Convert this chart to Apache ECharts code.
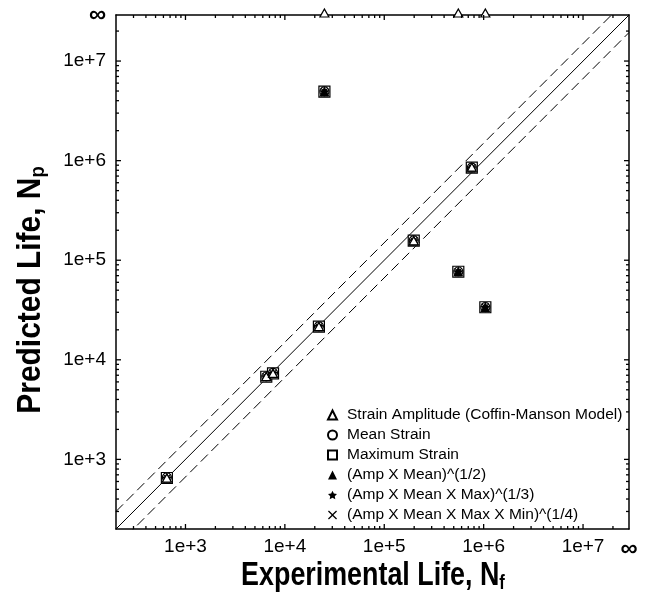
<!DOCTYPE html>
<html><head><meta charset="utf-8">
<script src="https://cdn.jsdelivr.net/npm/echarts@6/dist/echarts.min.js"></script>
<style>html,body{margin:0;padding:0;background:#fff}#c{width:652px;height:594px}</style>
</head><body><div id="c"></div>
<script>
// ---- data ----
const AXIS_MIN = 200;          // left / bottom edge of both axes
const AXIS_MAX = 2.9e7;        // right / top edge, labelled "∞"
const majorTicks = [1e3, 1e4, 1e5, 1e6, 1e7];
const tickLabels = ['1e+3', '1e+4', '1e+5', '1e+6', '1e+7'];
const infLabel = '∞';
const minorMantissas = [2, 3, 4, 5, 6, 7, 8, 9];
const bandFactor = 1.5;

const experimentalLife = [650, 6500, 7600, 22000, 25000, 198000, 556000, 760000, 1040000];
const strainAmplitude  = [650, 6800, 7300, 21600, Infinity, 157000, Infinity, 860000, Infinity];
const meanStrain       = [660, 6800, 7400, 21700, 4950000, 158000, 77000, 850000, 33800];
const maximumStrain    = [650, 6760, 7300, 21500, 4920000, 157000, 76600, 850000, 33700];
const ampMean          = [655, 6800, 7350, 21600, 4950000, 157000, 77000, 855000, 33800];
const ampMeanMax       = [650, 6780, 7350, 21600, 4930000, 157500, 76800, 850000, 33700];
const ampMeanMaxMin    = [650, 6760, 7300, 21500, 4930000, 157000, 76800, 850000, 33700];

const seriesNames = [
  'Strain Amplitude (Coffin-Manson Model)',
  'Mean Strain',
  'Maximum Strain',
  '(Amp X Mean)^(1/2)',
  '(Amp X Mean X Max)^(1/3)',
  '(Amp X Mean X Max X Min)^(1/4)'
];
const xTitle = ['Experimental Life, N', 'f'];
const yTitle = ['Predicted Life, N', 'p'];

// ---- build ----
const L = Math.log10;
const lmin = L(AXIS_MIN), lmax = L(AXIS_MAX);
const majorL = majorTicks.map(L);
const minorL = [];
for (let e = 2; e <= 7; e++) minorMantissas.forEach(m => {
  const v = L(m * Math.pow(10, e));
  if (v > lmin + 1e-9 && v < lmax - 1e-9) minorL.push(v);
});
const labelVals = majorL.concat([lmax]);
function fmt(v) {
  if (Math.abs(v - lmax) < 1e-9) return '{inf|' + infLabel + '}';
  const i = majorL.findIndex(t => Math.abs(t - v) < 1e-9);
  return i >= 0 ? tickLabels[i] : '';
}
const FONT = "'Liberation Sans', Arial, sans-serif";
const black = '#000';

function pts(pred) {
  return experimentalLife.map((x, i) => {
    const inf = !isFinite(pred[i]);
    const p = { value: [L(x), inf ? lmax : L(pred[i])] };
    if (inf) p.symbolOffset = [0, -2];
    return p;
  });
}

const labelRich = { inf: { fontSize: 24, fontWeight: 'bold', fontFamily: FONT, color: black } };
function mainAxis(isX) {
  return {
    type: 'value', min: lmin, max: lmax, position: isX ? 'bottom' : 'left',
    splitLine: { show: false },
    axisLine: { show: true, onZero: false, lineStyle: { color: black, width: 1.5 } },
    axisTick: { show: false },
    axisLabel: { show: true, customValues: labelVals, formatter: fmt, color: black, fontSize: 19,
                 fontFamily: FONT, margin: isX ? 8 : 10, rich: labelRich }
  };
}
function oppAxis(isX) {
  return {
    type: 'value', min: lmin, max: lmax, position: isX ? 'top' : 'right',
    splitLine: { show: false },
    axisLine: { show: true, onZero: false, lineStyle: { color: black, width: 1.5 } },
    axisTick: { show: false }, axisLabel: { show: false }
  };
}

// inward tick marks on all four sides, placed through the axes' scale
function tickSeries(arr, len) {
  const data = [];
  arr.forEach(v => {
    data.push({ value: [v, lmin], symbolSize: [1.3, len], symbolOffset: [0, -len / 2] });
    data.push({ value: [v, lmax], symbolSize: [1.3, len], symbolOffset: [0, len / 2] });
    data.push({ value: [lmin, v], symbolSize: [len, 1.3], symbolOffset: [len / 2, 0] });
    data.push({ value: [lmax, v], symbolSize: [len, 1.3], symbolOffset: [-len / 2, 0] });
  });
  return { type: 'scatter', symbol: 'rect', data: data, silent: true, clip: false, z: 6,
           itemStyle: { color: black, borderWidth: 0, opacity: 1 } };
}

const STAR = 'path://M0,-10 L2.9,-4 9.5,-3.1 4.8,1.5 5.9,8.1 0,5 -5.9,8.1 -4.8,1.5 -9.5,-3.1 -2.9,-4 Z';
const CROSS = 'path://M1,0 L5,4 L9,0 L10,1 L6,5 L10,9 L9,10 L5,6 L1,10 L0,9 L4,5 L0,1 Z';
const openStyle = { color: '#fff', borderColor: black, borderWidth: 1.2, opacity: 1 };
const fillStyle = { color: black, borderWidth: 0, opacity: 1 };

const lb = L(bandFactor);
const diag = [
  { data: [[lmin, lmin], [lmax, lmax]], type: 'solid' },
  { data: [[lmin, lmin + lb], [lmax, lmax + lb]], type: [10, 5] },
  { data: [[lmin, lmin - lb], [lmax, lmax - lb]], type: [10, 5] }
].map(d => ({
  type: 'line', data: d.data, symbol: 'none', silent: true, clip: true, z: 1,
  lineStyle: { color: black, width: 1, type: d.type }
}));

const scatter = [
  { name: seriesNames[0], data: pts(strainAmplitude), symbol: 'triangle', symbolSize: [9, 8], itemStyle: openStyle, z: 5 },
  { name: seriesNames[1], data: pts(meanStrain), symbol: 'circle', symbolSize: 9, itemStyle: openStyle, z: 3 },
  { name: seriesNames[2], data: pts(maximumStrain), symbol: 'rect', symbolSize: 11, itemStyle: openStyle, z: 2 },
  { name: seriesNames[3], data: pts(ampMean), symbol: 'triangle', symbolSize: 10, itemStyle: fillStyle, z: 4 },
  { name: seriesNames[4], data: pts(ampMeanMax), symbol: STAR, symbolSize: 10, itemStyle: fillStyle, z: 4 },
  { name: seriesNames[5], data: pts(ampMeanMaxMin), symbol: CROSS, symbolSize: 8, itemStyle: fillStyle, z: 4 }
].map(s => Object.assign({ type: 'scatter', clip: false, xAxisIndex: 0, yAxisIndex: 0 }, s));

function titleRich() {
  return {
    m: { fontSize: 34, fontWeight: 'bold', fontFamily: FONT, fill: black, color: black },
    s: { fontSize: 21, fontWeight: 'bold', fontFamily: FONT, fill: black, color: black, padding: [15, 0, 0, 0] }
  };
}

const chart = echarts.init(document.getElementById('c'), null, { renderer: 'canvas' });
chart.setOption({
  animation: false,
  backgroundColor: '#fff',
  grid: { left: 116, right: 23, top: 15, bottom: 65, containLabel: false },
  xAxis: [mainAxis(true), oppAxis(true)],
  yAxis: [mainAxis(false), oppAxis(false)],
  legend: {
    data: seriesNames, orient: 'vertical', left: 327, top: 407, padding: 0,
    itemWidth: 9, itemHeight: 9, itemGap: 4, selectedMode: false,
    textStyle: { color: black, fontSize: 15.5, fontFamily: FONT, lineHeight: 14, padding: [0, 0, 0, 5] }
  },
  graphic: [
    { type: 'text', x: 373, y: 576, scaleX: 0.79, silent: true,
      style: { text: '{m|' + xTitle[0] + '}{s|' + xTitle[1] + '}', rich: titleRich(), align: 'center', verticalAlign: 'middle', fill: black } },
    { type: 'text', x: 31, y: 290, rotation: Math.PI / 2, scaleX: 0.88, silent: true,
      style: { text: '{m|' + yTitle[0] + '}{s|' + yTitle[1] + '}', rich: titleRich(), align: 'center', verticalAlign: 'middle', fill: black } }
  ],
  series: diag.concat(scatter, [tickSeries(majorL, 5), tickSeries(minorL, 3)])
});
</script></body></html>
